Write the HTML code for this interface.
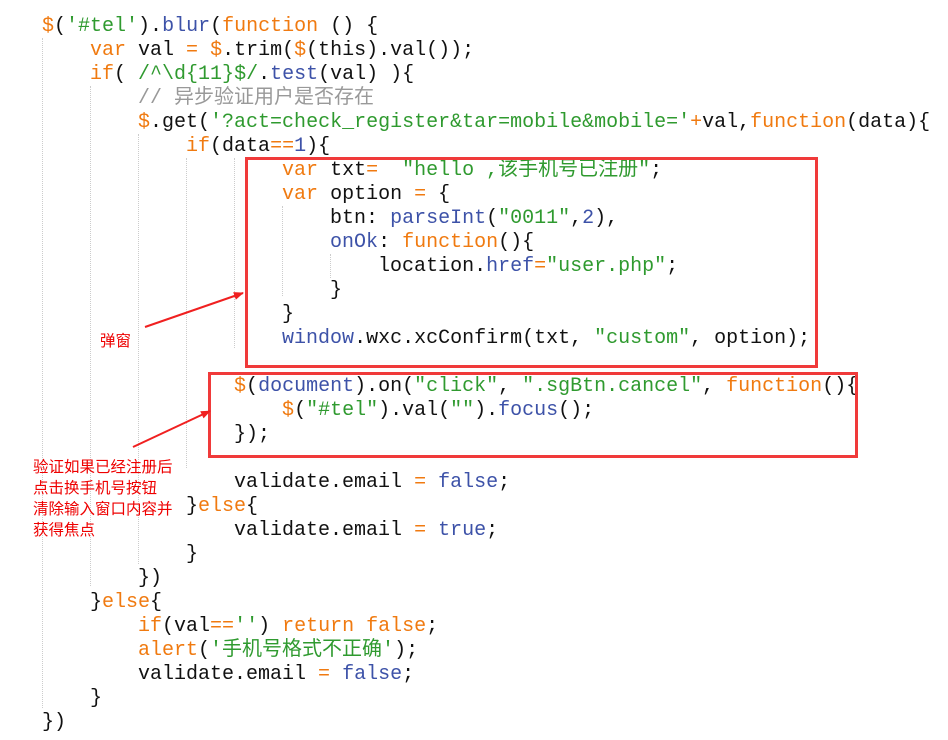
<!DOCTYPE html>
<html><head><meta charset="utf-8"><style>
body{margin:0;width:948px;height:740px;background:#fff;position:relative;overflow:hidden}
pre{position:absolute;left:42px;top:15px;margin:0;font-family:"Liberation Mono","Noto Sans CJK SC",monospace;font-size:20px;line-height:24px;color:#111}
.k{color:#f07a10}.f{color:#3d52a8}.s{color:#2f9a2f}.c{color:#999}.n{color:#3d52a8}
.g{position:absolute;width:0;border-left:1px dotted #ccc}
.box{position:absolute;border:3px solid #f03a3a}
.lab{position:absolute;font-family:"Noto Sans CJK SC",sans-serif;font-size:15.5px;color:#e00;line-height:21px}
</style></head><body>
<div class="g" style="left:42px;top:38px;height:670px"></div>
<div class="g" style="left:90px;top:86px;height:500px"></div>
<div class="g" style="left:138px;top:134px;height:430px"></div>
<div class="g" style="left:186px;top:158px;height:310px"></div>
<div class="g" style="left:234px;top:158px;height:190px"></div>
<div class="g" style="left:282px;top:206px;height:90px"></div>
<div class="g" style="left:330px;top:254px;height:24px"></div>
<pre><span class="k">$</span>(<span class="s">'#tel'</span>).<span class="f">blur</span>(<span class="k">function</span> () {
    <span class="k">var</span> val <span class="k">=</span> <span class="k">$</span>.trim(<span class="k">$</span>(this).val());
    <span class="k">if</span>( <span class="s">/^\d{11}$/</span>.<span class="f">test</span>(val) ){
        <span class="c">// 异步验证用户是否存在</span>
        <span class="k">$</span>.get(<span class="s">'?act=check_register&amp;tar=mobile&amp;mobile='</span><span class="k">+</span>val,<span class="k">function</span>(data){
            <span class="k">if</span>(data<span class="k">==</span><span class="n">1</span>){
                    <span class="k">var</span> txt<span class="k">=</span>  <span class="s">"hello ,该手机号已注册"</span>;
                    <span class="k">var</span> option <span class="k">=</span> {
                        btn: <span class="f">parseInt</span>(<span class="s">"0011"</span>,<span class="n">2</span>),
                        <span class="f">onOk</span>: <span class="k">function</span>(){
                            location.<span class="f">href</span><span class="k">=</span><span class="s">"user.php"</span>;
                        }
                    }
                    <span class="f">window</span>.wxc.xcConfirm(txt, <span class="s">"custom"</span>, option);

                <span class="k">$</span>(<span class="f">document</span>).on(<span class="s">"click"</span>, <span class="s">".sgBtn.cancel"</span>, <span class="k">function</span>(){
                    <span class="k">$</span>(<span class="s">"#tel"</span>).val(<span class="s">""</span>).<span class="f">focus</span>();
                });

                validate.email <span class="k">=</span> <span class="n">false</span>;
            }<span class="k">else</span>{
                validate.email <span class="k">=</span> <span class="n">true</span>;
            }
        })
    }<span class="k">else</span>{
        <span class="k">if</span>(val<span class="k">==</span><span class="s">''</span>) <span class="k">return false</span>;
        <span class="k">alert</span>(<span class="s">'手机号格式不正确'</span>);
        validate.email <span class="k">=</span> <span class="n">false</span>;
    }
})</pre>
<div class="box" style="left:245px;top:157px;width:567px;height:205px"></div>
<div class="box" style="left:208px;top:372px;width:644px;height:80px"></div>
<svg style="position:absolute;left:0;top:0" width="948" height="740">
<defs><marker id="a" markerWidth="10" markerHeight="8" refX="9" refY="4" orient="auto" markerUnits="userSpaceOnUse"><path d="M0,0 L10,4 L0,8 z" fill="#f02020"/></marker></defs>
<line x1="145" y1="327" x2="243" y2="293" stroke="#f02020" stroke-width="2" marker-end="url(#a)"/>
<line x1="133" y1="447" x2="210" y2="411" stroke="#f02020" stroke-width="2" marker-end="url(#a)"/>
</svg>
<div class="lab" style="left:100px;top:330px">弹窗</div>
<div class="lab" style="left:33px;top:456px">验证如果已经注册后<br>点击换手机号按钮<br>清除输入窗口内容并<br>获得焦点</div>
</body></html>
